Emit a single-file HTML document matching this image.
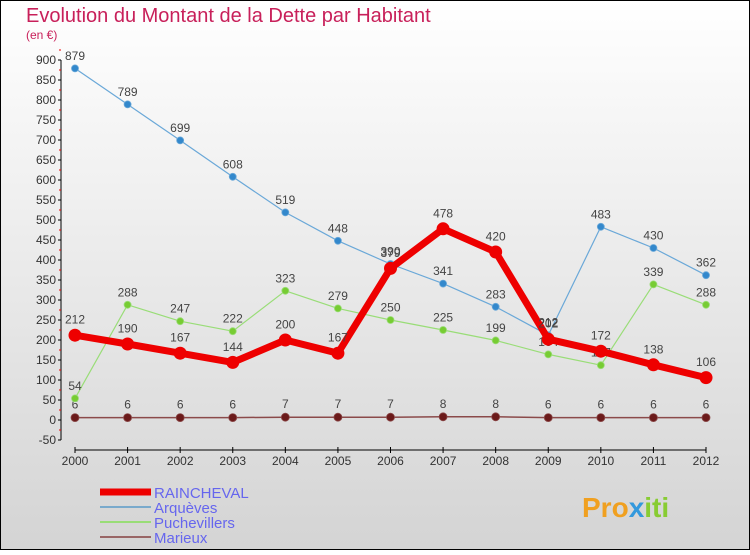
<!DOCTYPE html>
<html><head><meta charset="utf-8"><style>
html,body{margin:0;padding:0}
body{width:750px;height:550px;overflow:hidden;font-family:"Liberation Sans",sans-serif}
</style></head><body>
<svg width="750" height="550" xmlns="http://www.w3.org/2000/svg">
<defs><linearGradient id="bg" x1="0" y1="0" x2="0" y2="1"><stop offset="0" stop-color="#ffffff"/><stop offset="1" stop-color="#d4d4d4"/></linearGradient></defs>
<rect x="0.5" y="0.5" width="749" height="549" fill="url(#bg)" stroke="#000"/>
<text x="26" y="22" font-size="20" fill="#c8205a">Evolution du Montant de la Dette par Habitant</text>
<text x="26" y="39" font-size="12" fill="#c8205a">(en €)</text>
<g id="axes"></g>
<g id="series"></g>
<g id="legend"></g>
<text x="582" y="517" font-size="28" font-weight="bold" fill="#f0a020">Pro<tspan fill="#3399dd">x</tspan><tspan fill="#88cc33">iti</tspan></text>
</svg>
<script>
const years=[2000,2001,2002,2003,2004,2005,2006,2007,2008,2009,2010,2011,2012];
const yTicks=[-50,0,50,100,150,200,250,300,350,400,450,500,550,600,650,700,750,800,850,900];
const rainchevalValues=[212,190,167,144,200,167,379,478,420,202,172,138,106];
const arquevesValues=[879,789,699,608,519,448,390,341,283,212,483,430,362];
const puchevillersValues=[54,288,247,222,323,279,250,225,199,164,137,339,288];
const marieuxValues=[6,6,6,6,7,7,7,8,8,6,6,6,6];
const NS="http://www.w3.org/2000/svg";
const xS=i=>75+i*(706-75)/12;
const yS=v=>420-v*0.4;
function mk(tag,attrs,parent){const e=document.createElementNS(NS,tag);for(const k in attrs)e.setAttribute(k,attrs[k]);parent.appendChild(e);return e;}
const ax=document.getElementById('axes');
let yl=mk('line',{x1:61,y1:yS(900),x2:61,y2:yS(-50),stroke:'#000'},ax);


yTicks.forEach(v=>{
  const t=mk('line',{x1:58,x2:61,y1:yS(v),y2:yS(v),stroke:'#000'},ax);
  
  
  const m=mk('line',{x1:59,x2:61,y1:yS(v+25),y2:yS(v+25),stroke:'#e00'},ax);
  
  
  const l=mk('text',{x:56,y:yS(v)+4,'font-size':12,'text-anchor':'end',fill:'#333'},ax);
  l.textContent=v;
  
  
});
let xl=mk('line',{x1:75,y1:450,x2:706,y2:450,stroke:'#000'},ax);


years.forEach((y,i)=>{
  const t=mk('line',{x1:xS(i),x2:xS(i),y1:447,y2:453,stroke:'#000'},ax);
  
  
  const l=mk('text',{x:xS(i),y:465,'font-size':12,'text-anchor':'middle',fill:'#333'},ax);
  l.textContent=y;
  
  
});
const sg=document.getElementById('series');
function series(vals,name,color,lw,r,dot){
  const g=mk('g',{},sg);
  
  
  const p=mk('polyline',{points:vals.map((v,i)=>xS(i)+','+yS(v)).join(' '),fill:'none',stroke:color,'stroke-width':lw,'stroke-linejoin':'round'},g);
  
  
  vals.forEach((v,i)=>{
    const c=mk('circle',{cx:xS(i),cy:yS(v),r:r,fill:dot,stroke:color==dot?'none':color,'stroke-width':0.8},g);
    
    
    const t=mk('text',{x:xS(i),y:yS(v)-(r+5),'font-size':12,'text-anchor':'middle',fill:'#444'},g);
    t.textContent=v;
    
    
  });
}
series(marieuxValues,'marieux','#8b4a4a',1.5,4,'#6b1a1a');
series(puchevillersValues,'puchevillers','#99dd77',1.2,3.5,'#77cc33');
series(arquevesValues,'arqueves','#6aa8d8',1.2,3.5,'#3388cc');
series(rainchevalValues,'raincheval','#ee0000',7,6.5,'#ee0000');
const lg=document.getElementById('legend');
const items=[['RAINCHEVAL','#ee0000',7],['Arquèves','#7aaacc',2],['Puchevillers','#99dd77',2],['Marieux','#996666',2]];
items.forEach((it,i)=>{
  const y=492+i*15;
  const g=mk('g',{},lg);
  
  
  mk('line',{x1:100,x2:151,y1:y,y2:y,stroke:it[1],'stroke-width':it[2]},g);
  const t=mk('text',{x:154,y:y+6,'font-size':15,fill:'#6666ee'},g);
  t.textContent=it[0];
});
</script>
</body></html>
